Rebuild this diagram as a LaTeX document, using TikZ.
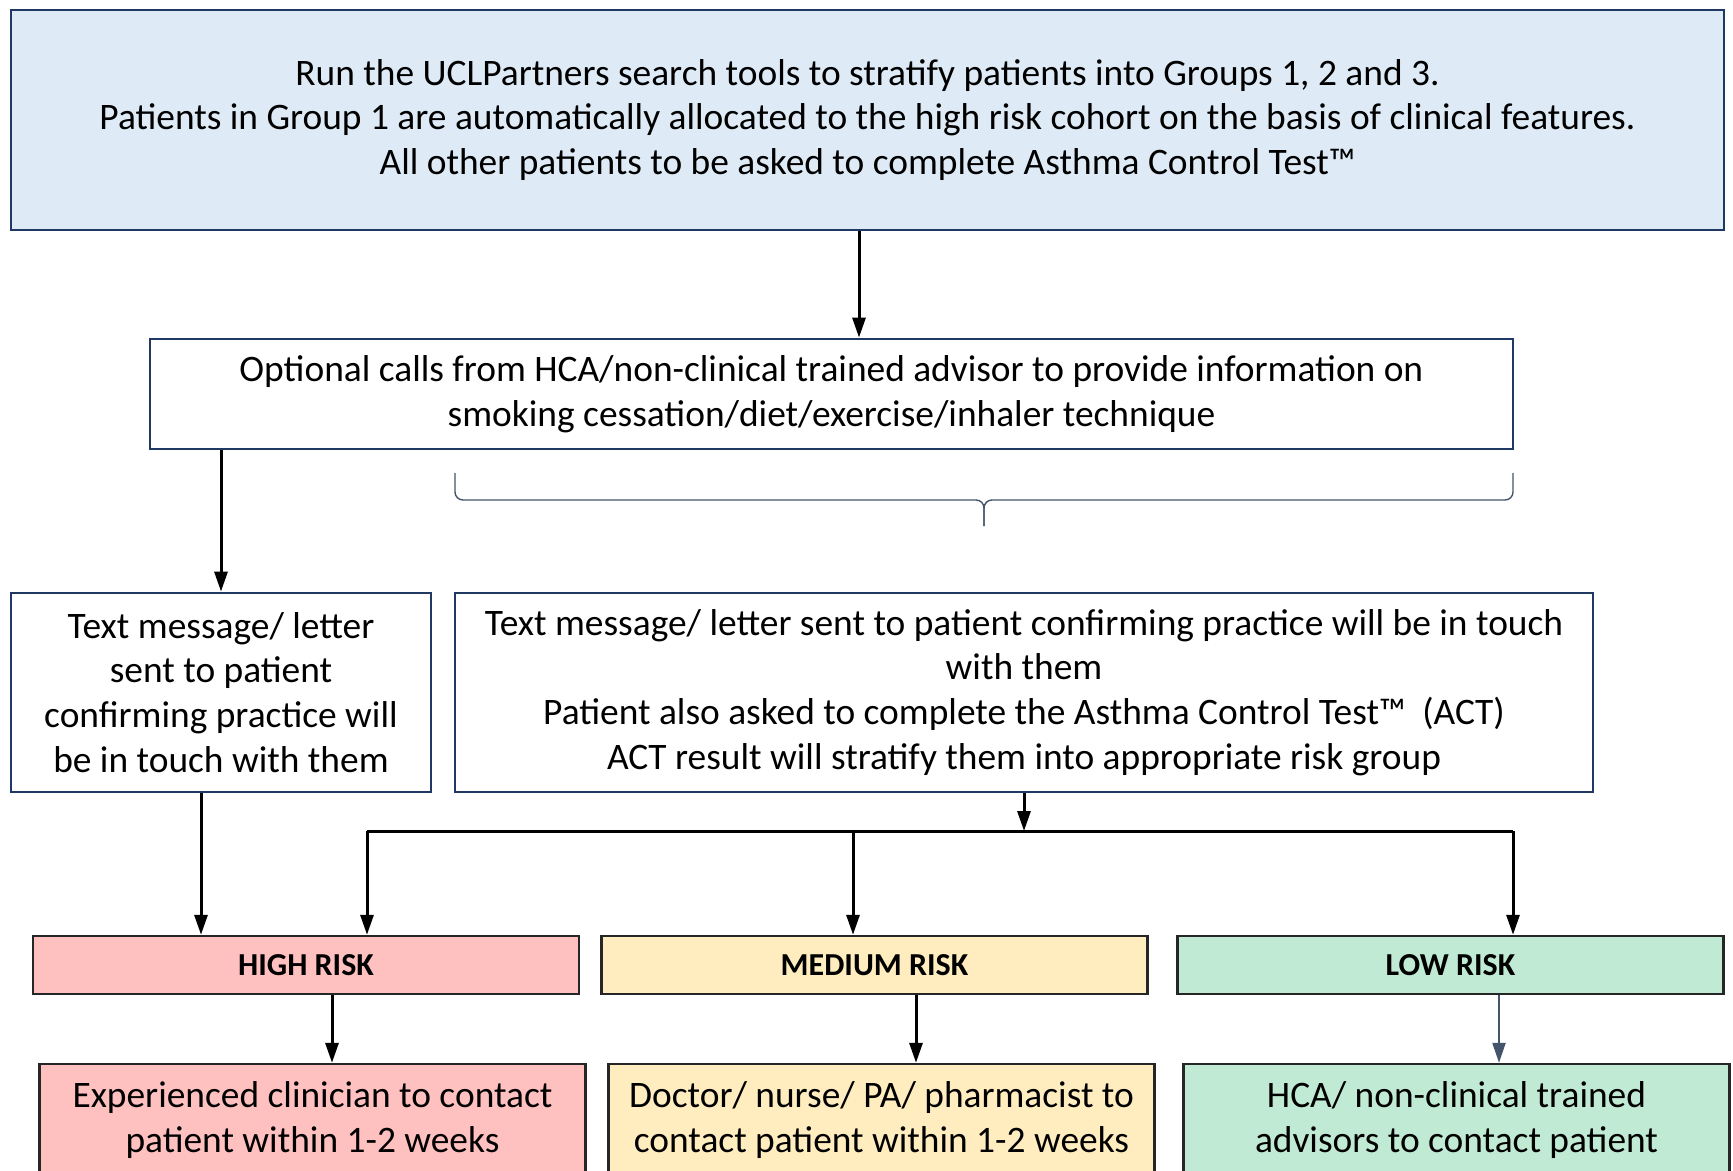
\documentclass[tikz,border=0pt]{standalone}
\usepackage{fontspec}
\setmainfont{Carlito}
\usetikzlibrary{arrows.meta}
\definecolor{navy}{RGB}{32,56,100}
\definecolor{topblue}{RGB}{222,235,247}
\definecolor{highred}{RGB}{255,192,192}
\definecolor{medyellow}{RGB}{255,237,192}
\definecolor{lowgreen}{RGB}{193,234,212}
\definecolor{slate}{RGB}{68,84,106}

\begin{document}
\begin{tikzpicture}[
  box/.style={draw=navy, line width=1.4pt, align=center, inner sep=0pt, font=\fontsize{18.7}{22.4}\selectfont},
  riskbox/.style={draw=black!85, line width=1.2pt, align=center, inner sep=0pt, minimum width=273pt, font=\fontsize{18.7}{22.4}\selectfont},
  risklabel/.style={riskbox, minimum height=29pt, font=\fontsize{16}{19}\selectfont\bfseries},
  arr/.style={line width=1.5pt, -{Triangle[length=10pt,width=6.5pt]}}
]
\useasboundingbox (0,0) rectangle (866.5pt,-585.5pt);
\node[box, fill=topblue, minimum width=856.5pt, minimum height=110pt] (search) at (433.75pt,-60pt)
  {Run the UCLPartners search tools to stratify patients into Groups 1, 2 and 3.\\
   Patients in Group 1 are automatically allocated to the high risk cohort on the basis of clinical features.\\
   All other patients to be asked to complete Asthma Control Test™};
\node[box, minimum width=681.5pt, minimum height=55pt] (optional) at (415.75pt,-197pt)
  {Optional calls from HCA/non-clinical trained advisor to provide information on\\
   smoking cessation/diet/exercise/inhaler technique};
\node[box, minimum width=210pt, minimum height=99.5pt] (letter) at (110.5pt,-346.25pt)
  {Text message/ letter\\sent to patient\\confirming practice will\\be in touch with them};
\node[box, minimum width=569pt, minimum height=99.5pt] (actest) at (512pt,-346.25pt)
  {Text message/ letter sent to patient confirming practice will be in touch\\
   with them\\
   Patient also asked to complete the Asthma Control Test™~ (ACT)\\
   ACT result will stratify them into appropriate risk group};
\node[risklabel, fill=highred] (high) at (153pt,-482.5pt) {HIGH RISK};
\node[risklabel, fill=medyellow] (medium) at (437.25pt,-482.5pt) {MEDIUM RISK};
\node[risklabel, fill=lowgreen] (low) at (725.25pt,-482.5pt) {LOW RISK};
\node[riskbox, fill=highred, minimum height=56pt] (highact) at (156.25pt,-560pt)
  {Experienced clinician to contact\\patient within 1-2 weeks};
\node[riskbox, fill=medyellow, minimum height=56pt] (medact) at (440.75pt,-560pt)
  {Doctor/ nurse/ PA/ pharmacist to\\contact patient within 1-2 weeks};
\node[riskbox, fill=lowgreen, minimum height=56pt] (lowact) at (728.25pt,-560pt)
  {HCA/ non-clinical trained\\advisors to contact patient};

\coordinate (s1) at ([xshift=-4.25pt]search.south);
\draw[arr] (s1) -- (s1 |- optional.north);
\draw[arr] (optional.south -| letter.north) -- (letter.north);

\coordinate (bl) at (227.5pt,-236.5pt);
\coordinate (br) at (756.5pt,-236.5pt);
\coordinate (bm) at (492pt,-250pt);
\coordinate (bt) at (492pt,-263pt);
\draw[slate, line width=0.7pt, rounded corners=4pt] (bl) |- (bm) -- (bt);
\draw[slate, line width=0.7pt, rounded corners=4pt] (br) |- (bm) -- (bt);

\coordinate (l1) at ([xshift=-10pt]letter.south);
\draw[arr] (l1) -- (l1 |- high.north);

\coordinate (h1) at (183.5pt,-415.5pt);
\coordinate (h2) at (426.5pt,-415.5pt);
\coordinate (h3) at (756.5pt,-415.5pt);
\draw[arr] (actest.south) -- (actest.south |- h2);
\draw[line width=1.5pt] (h1) -- (h3);
\foreach \p/\n in {h1/high,h2/medium,h3/low}
  \draw[arr] (\p) -- (\p |- \n.north);

\foreach \n/\m/\d in {high/highact/13pt,medium/medact/20.75pt}{
  \coordinate (c) at ([xshift=\d]\n.south);
  \draw[arr] (c) -- (c |- \m.north);
}
\coordinate (c) at ([xshift=24.25pt]low.south);
\draw[arr, slate, line width=1.1pt] (c) -- (c |- lowact.north);
\end{tikzpicture}
\end{document}
